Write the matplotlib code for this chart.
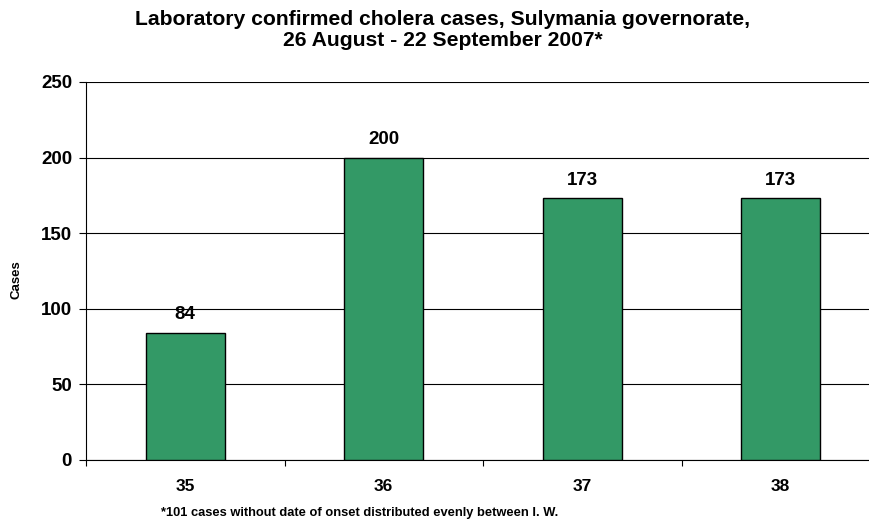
import numpy as np
import matplotlib.pyplot as plt

weeks = ['35', '36', '37', '38']
cases = [84, 200, 173, 173]

title = 'Laboratory confirmed cholera cases, Sulymania governorate,\n26 August - 22 September 2007*'
note = '*101 cases without date of onset distributed evenly between I. W.'


def main():
    plt.rcParams['font.family'] = ['Liberation Sans', 'DejaVu Sans']
    plt.rcParams['font.weight'] = 'bold'

    fig = plt.figure(figsize=(8.69, 5.32), dpi=100)
    ax = fig.add_axes([86 / 869, 72 / 532, 794 / 869, 378 / 532])

    x = np.arange(len(weeks))
    bars = ax.bar(x, cases, width=0.4, color='#339966', edgecolor='black', linewidth=1, zorder=3)
    for b, v in zip(bars, cases):
        ax.annotate(str(v), (b.get_x() + b.get_width() / 2, v), xytext=(0, 7),
                    textcoords='offset points', ha='center', va='bottom',
                    fontsize=13.5, fontweight='bold')

    ax.set_xlim(-0.5, len(weeks) - 0.5)
    ax.set_ylim(0, 250)
    ax.set_yticks(np.arange(0, 251, 50))
    ax.set_xticks(x)
    ax.set_xticklabels(weeks, fontsize=12.5, fontweight='bold')
    ax.set_xticks(np.arange(-0.5, len(weeks), 1), minor=True)
    ax.tick_params(axis='x', which='major', length=0, pad=14)
    ax.tick_params(axis='x', which='minor', length=4, direction='out', width=0.8)
    ax.tick_params(axis='y', length=5, width=0.8, labelsize=13.5, pad=5)
    for lbl in ax.get_yticklabels():
        lbl.set_fontweight('bold')

    ax.grid(axis='y', color='black', linewidth=0.8, zorder=0)
    ax.spines['top'].set_visible(False)
    ax.spines['right'].set_visible(False)
    ax.spines['left'].set_linewidth(0.8)
    ax.spines['bottom'].set_linewidth(0.8)

    fig.text(17 / 869, 1 - 280 / 532, 'Cases', ha='center', va='center', rotation=90,
             fontsize=9.5, fontweight='bold')

    fig.text(443 / 869, 1 - 30 / 532, title, ha='center', va='center',
             fontsize=15.2, fontweight='bold', linespacing=1.12)
    fig.text(360 / 869, 1 - 513 / 532, note, ha='center', va='center',
             fontsize=9.3, fontweight='bold')

    plt.savefig('out.png', dpi=100)


if __name__ == '__main__':
    main()
